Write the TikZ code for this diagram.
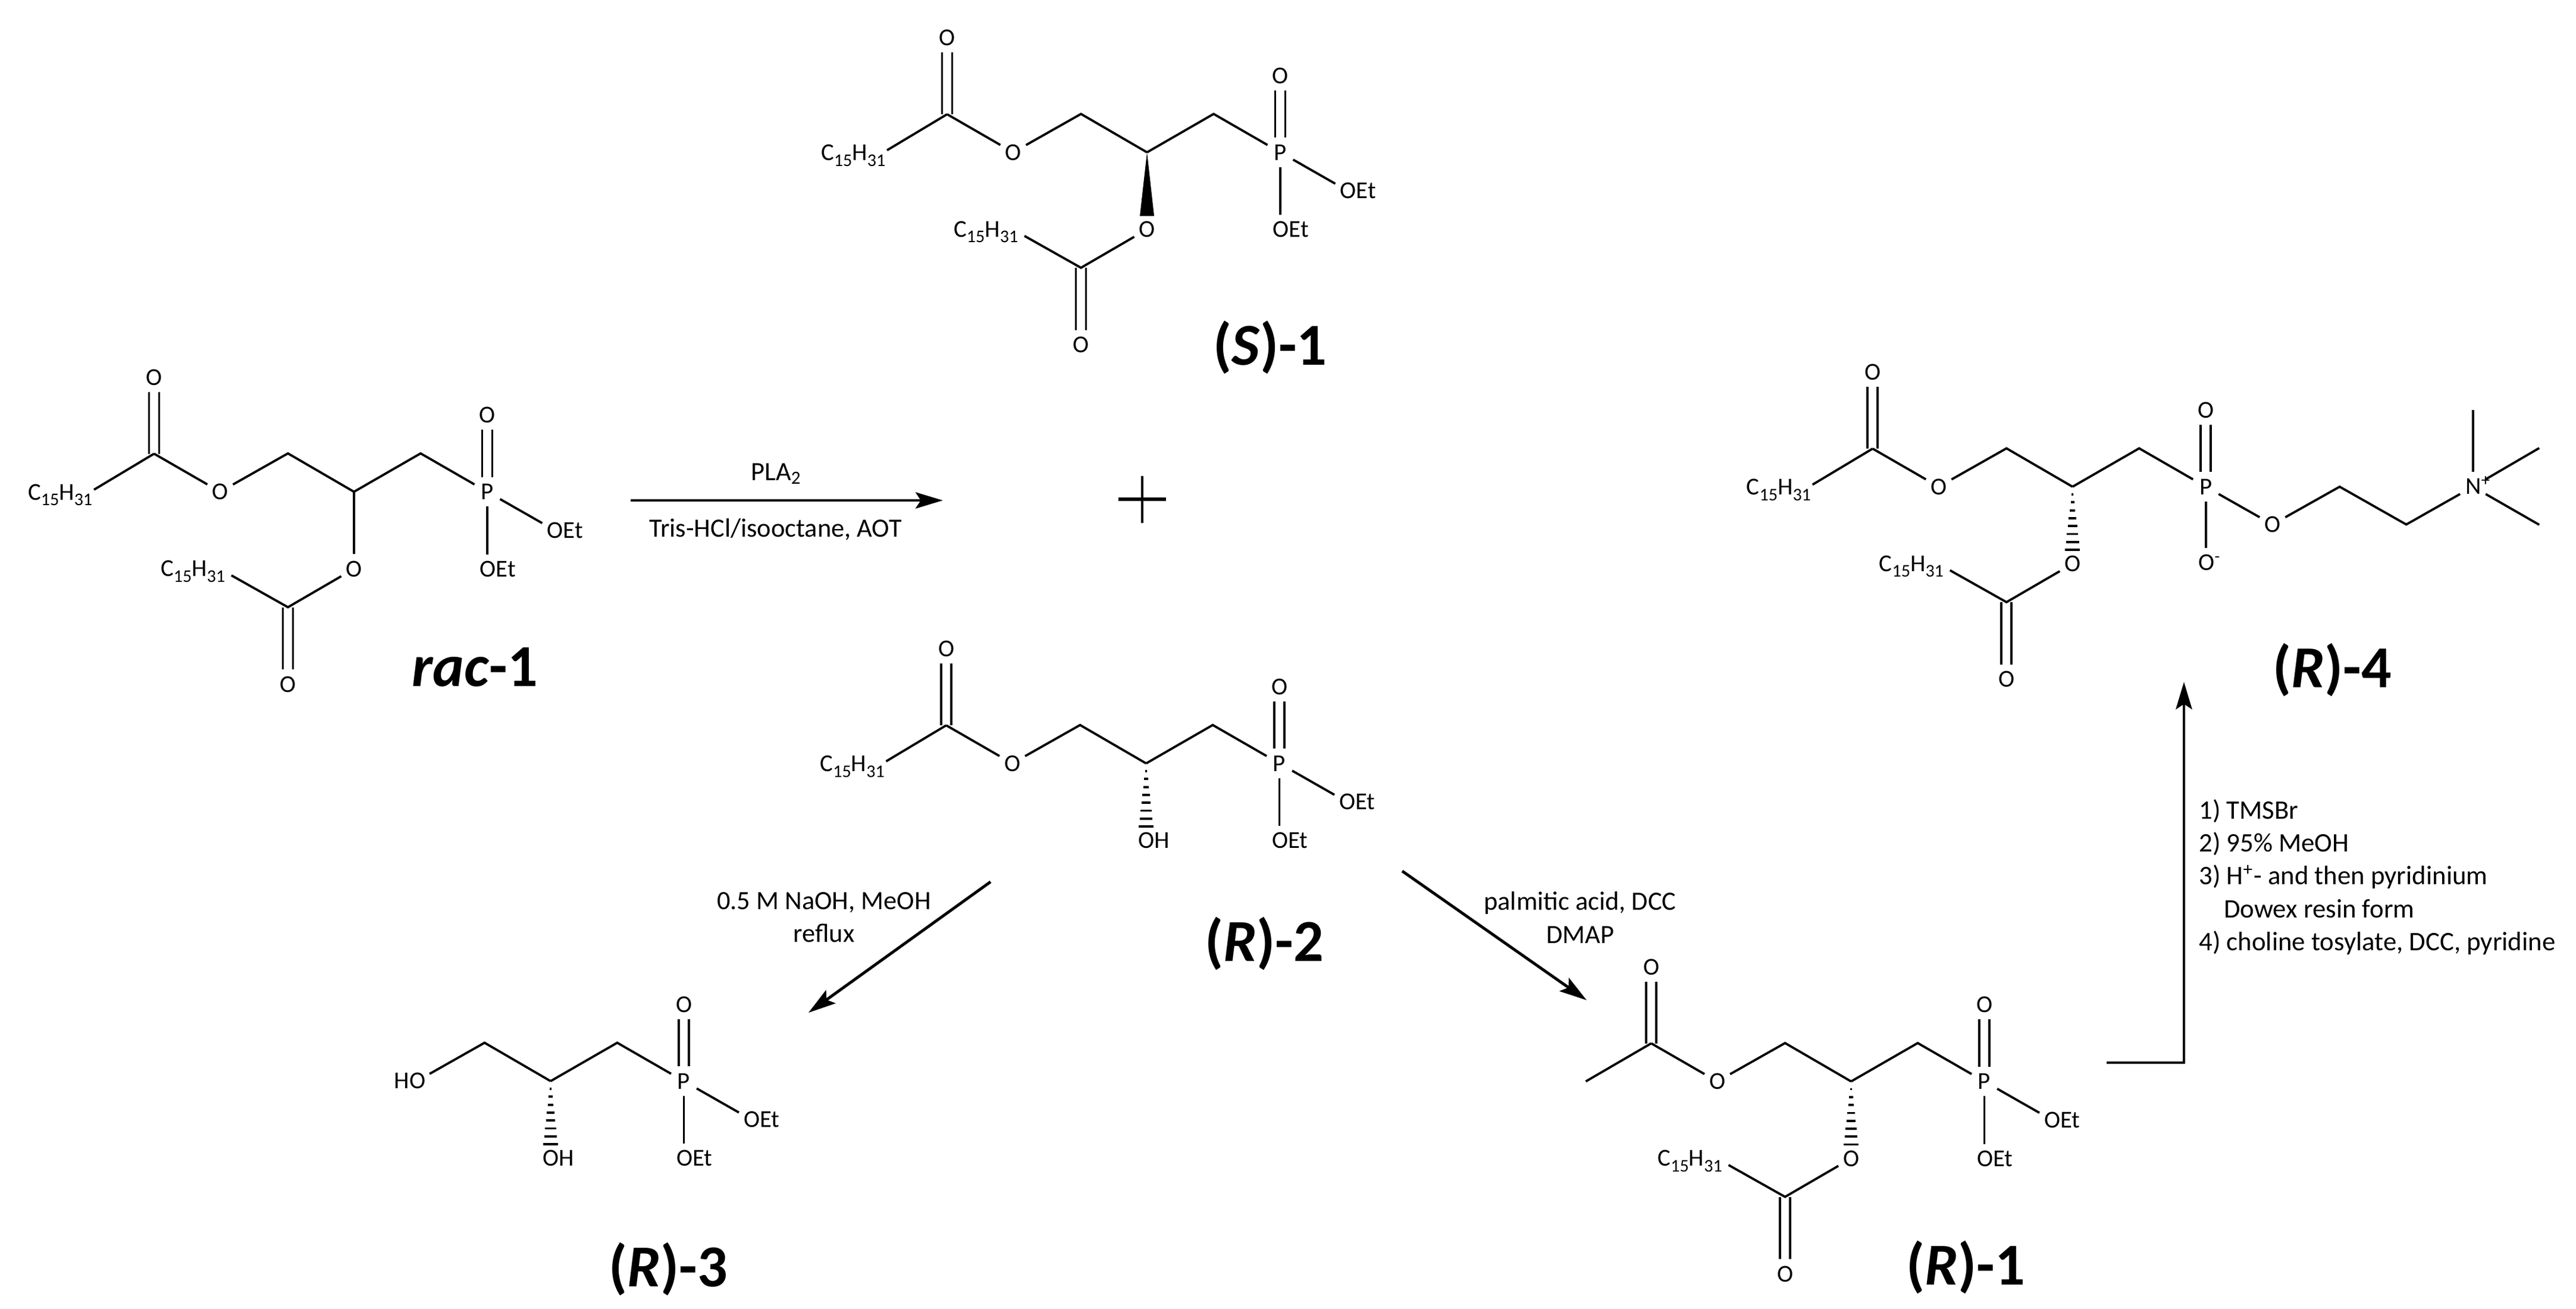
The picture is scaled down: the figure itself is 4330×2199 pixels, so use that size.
\documentclass[tikz,border=0pt]{standalone}
\usepackage{fontspec}
\setmainfont{Carlito}
\usetikzlibrary{arrows.meta}
\newcommand{\lowidx}[1]{\raisebox{-2.4pt}{\fontsize{7.5}{9}\selectfont #1}}
\tikzset{
  bond/.style={line width=0.95pt,line cap=butt,line join=miter},
  dbl/.style={double,double distance=3.3pt,line width=0.95pt},
  atom/.style={circle,minimum size=12pt,inner sep=0pt,font=\fontsize{10.2}{12}\selectfont},
  lab/.style={inner sep=0pt,text height=6.4pt,text depth=0pt,font=\fontsize{10.2}{12}\selectfont},
  reagent/.style={inner sep=0pt,align=center,font=\fontsize{11.1}{13.8}\selectfont},
  title/.style={inner sep=0pt,anchor=base,font=\fontsize{25}{30}\selectfont\bfseries},
  rxn/.style={line width=1.2pt,-{Stealth[length=11.5pt,width=6.8pt,inset=2.2pt]}},
}
% CH centre, its CH2 neighbour, P and P=O
\newcommand{\pcore}[1]{%
  \coordinate (#1ch) at (0,0);
  \coordinate (#1cb) at (112,64.5);
  \node[atom] (#1p) at (224,0) {P};
  \node[atom] (#1po) at (224,129) {O};
  \draw[dbl] (#1p) -- (#1po);
  \draw[bond] (#1ch) -- (#1cb) -- (#1p);
}
\newcommand{\diethyl}[1]{%
  \node[atom] (#1oa) at (338,-65) {};
  \node[lab,anchor=west] (#1oat) at (324,-65) {OEt};
  \node[atom] (#1ob) at (224,-130) {};
  \node[lab,anchor=west] (#1obt) at (211,-130) {OEt};
  \draw[bond] (#1p) -- (#1oa);
  \draw[bond] (#1p) -- (#1ob);
}
% upper ester, without the far substituent
\newcommand{\upperester}[1]{%
  \coordinate (#1ca) at (-111,64.5);
  \node[atom] (#1oe) at (-225,0) {O};
  \coordinate (#1co) at (-336,64);
  \node[atom] (#1ot) at (-336,192.5) {O};
  \draw[dbl] (#1co) -- (#1ot);
  \draw[bond] (#1ch) -- (#1ca) -- (#1oe);
  \draw[bond] (#1oe) -- (#1co);
}
\newcommand{\upperchain}[1]{%
  \node[lab,anchor=east] (#1cu) at (-439,-1) {C\lowidx{15}H\lowidx{31}};
  \coordinate (#1cue) at (-437,3.5);
  \draw[bond] (#1co) -- (#1cue);
}
% lower ester
\newcommand{\lowerester}[1]{%
  \node[atom] (#1ol) at (0,-129.5) {O};
  \coordinate (#1cl) at (-111,-194);
  \node[atom] (#1ob2) at (-111,-323.5) {O};
  \node[lab,anchor=east] (#1cd) at (-216,-129.5) {C\lowidx{15}H\lowidx{31}};
  \coordinate (#1cde) at (-206,-140.5);
  \draw[dbl] (#1cl) -- (#1ob2);
  \draw[bond] (#1cde) -- (#1cl) -- (#1ol);
}
\newcommand{\hashbond}{%
  \foreach \yy in {-13,-26.3,-39.6,-52.9,-66.2,-79.5,-92.8,-106}{
    \draw[line width=0.95pt] ({0.118*\yy},\yy) -- ({-0.118*\yy},\yy);
  }
}
\begin{document}
\begin{tikzpicture}[x=0.25pt,y=0.25pt]
\useasboundingbox (0,0) rectangle (4330,-2199);

% rac-1
\begin{scope}[shift={(595,-826.5)}]
  \pcore{a} \diethyl{a} \upperester{a} \upperchain{a} \lowerester{a}
  \draw[bond] (ach) -- (aol);
\end{scope}
\node[title] (tA) at (798,-1153) {\textit{rac}-1};

% (S)-1
\begin{scope}[shift={(1928,-256)}]
  \pcore{s} \diethyl{s} \upperester{s} \upperchain{s} \lowerester{s}
  \fill (sch) -- (12,-107) -- (-12,-107) -- cycle;
\end{scope}
\node[title] (tS) at (2135,-613.5) {(\textit{S})-1};

% (R)-2
\begin{scope}[shift={(1926.5,-1283)}]
  \pcore{b} \diethyl{b} \upperester{b} \upperchain{b}
  \node[atom] (bol) at (0,-129.5) {};
  \node[lab,anchor=west] (bolt) at (-13.5,-129.5) {OH};
  \hashbond
\end{scope}
\node[title] (tB) at (2125,-1615) {(\textit{R})-2};

% (R)-3
\begin{scope}[shift={(925.5,-1817)}]
  \pcore{c} \diethyl{c}
  \coordinate (cca) at (-111,64.5);
  \node[atom] (coe) at (-225,0) {};
  \node[lab,anchor=east] (coet) at (-209.5,0) {HO};
  \draw[bond] (cch) -- (cca) -- (coe);
  \node[atom] (col) at (0,-129.5) {};
  \node[lab,anchor=west] (colt) at (-13.5,-129.5) {OH};
  \hashbond
\end{scope}
\node[title] (tC) at (1123,-2162) {(\textit{R})-3};

% (R)-1
\begin{scope}[shift={(3111.5,-1817.5)}]
  \pcore{d} \diethyl{d} \upperester{d} \lowerester{d}
  \coordinate (dme) at (-446,0);
  \draw[bond] (dco) -- (dme);
  \hashbond
\end{scope}
\node[title] (tD) at (3304,-2159) {(\textit{R})-1};

% (R)-4
\begin{scope}[shift={(3483.7,-818)}]
  \pcore{e} \upperester{e} \upperchain{e} \lowerester{e}
  \hashbond
  \node[atom] (eob) at (224,-128) {};
  \node[lab,anchor=west] (eobt) at (211,-128) {O\textsuperscript{-}};
  \draw[bond] (ep) -- (eob);
  \node[atom] (eo) at (336,-63.5) {O};
  \coordinate (ec1) at (449,0);
  \coordinate (ec2) at (561,-63.5);
  \node[atom] (en) at (673,0) {};
  \node[lab,anchor=west] (ent) at (660,0) {N\textsuperscript{+}};
  \coordinate (em1) at (673,129);
  \coordinate (em2) at (784.5,65);
  \coordinate (em3) at (784.5,-64);
  \draw[bond] (ep) -- (eo);
  \draw[bond] (eo) -- (ec1) -- (ec2) -- (en);
  \draw[bond] (en) -- (em1);
  \draw[bond] (en) -- (em2);
  \draw[bond] (en) -- (em3);
\end{scope}
\node[title] (tE) at (3920,-1155) {(\textit{R})-4};

% plus
\coordinate (plusl) at (1880,-839);
\coordinate (plusr) at (1960,-839);
\coordinate (plust) at (1920,-800);
\coordinate (plusb) at (1920,-879);
\draw[line width=1.3pt] (plusl) -- (plusr);
\draw[line width=1.1pt] (plust) -- (plusb);

% arrows
\coordinate (r1s) at (1060,-841);
\coordinate (r1e) at (1585,-841);
\draw[rxn] (r1s) -- (r1e);
\node[reagent,anchor=base] (r1a) at (1305,-807) {PLA\textsubscript{2}};
\node[reagent,anchor=base] (r1b) at (1303.5,-902) {Tris-HCl/isooctane, AOT};

\coordinate (r2s) at (1665,-1482);
\coordinate (r2e) at (1359,-1702);
\draw[rxn] (r2s) -- (r2e);
\node[reagent] (r2a) at (1385,-1542) {0.5 M NaOH, MeOH\\reflux};

\coordinate (r3s) at (2357,-1464);
\coordinate (r3e) at (2667,-1681);
\draw[rxn] (r3s) -- (r3e);
\node[reagent] (r3a) at (2656,-1542) {palmitic acid, DCC\\DMAP};

\coordinate (r4s) at (3541,-1786);
\coordinate (r4c) at (3671,-1786);
\coordinate (r4e) at (3671,-1146);
\draw[rxn] (r4s) -- (r4c) -- (r4e);
\node[inner sep=0pt,align=left,anchor=north west,font=\fontsize{11.2}{13.8}\selectfont] (r4a) at (3695.5,-1343)
  {1) TMSBr\\2) 95\% MeOH\\3) H\textsuperscript{+}- and then pyridinium\\\hspace*{10.5pt}Dowex resin form\\4) choline tosylate, DCC, pyridine};
\end{tikzpicture}
\end{document}
